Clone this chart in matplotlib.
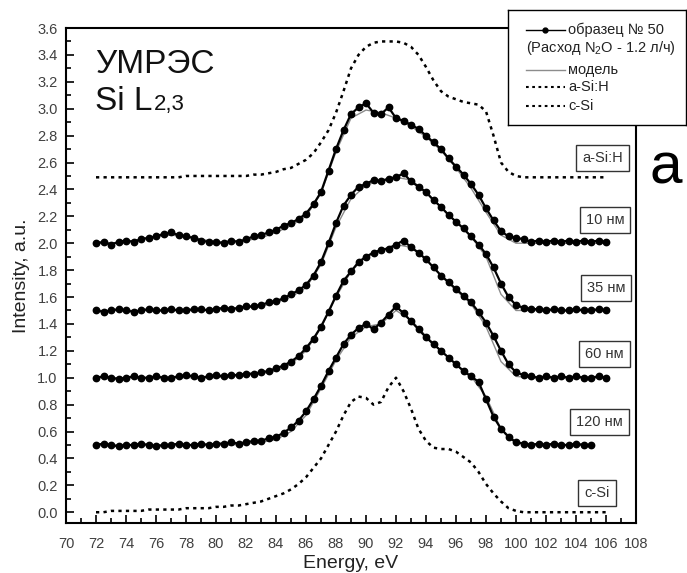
import numpy as np
import matplotlib
matplotlib.use("Agg")
import matplotlib.pyplot as plt
from matplotlib.ticker import MultipleLocator, FormatStrFormatter

plt.rcParams["font.family"] = ["Liberation Sans", "DejaVu Sans"]
plt.rcParams["mathtext.fontset"] = "custom"
plt.rcParams["mathtext.rm"] = "Liberation Sans"

# energy grids (eV): measured points every 0.5 eV, model every 1 eV
energy = np.arange(72.0, 106.01, 0.5)
energy_model = np.arange(72.0, 106.01, 1.0)

# reference spectra (dashed)
ref_asih = [
    2.49, 2.49, 2.49, 2.49, 2.49, 2.49, 2.49, 2.49, 2.49, 2.49,
    2.49, 2.49, 2.50, 2.50, 2.50, 2.50, 2.50, 2.50, 2.50, 2.50,
    2.50, 2.51, 2.51, 2.52, 2.53, 2.55, 2.56, 2.59, 2.62, 2.67,
    2.75, 2.84, 2.97, 3.13, 3.30, 3.40, 3.46, 3.49, 3.50, 3.50,
    3.50, 3.49, 3.46, 3.40, 3.31, 3.21, 3.13, 3.09, 3.07, 3.05,
    3.04, 3.03, 2.98, 2.80, 2.60, 2.53, 2.50, 2.49, 2.49, 2.49,
    2.49, 2.49, 2.49, 2.49, 2.49, 2.49, 2.49, 2.49, 2.49,
]
ref_csi = [
    0.00, 0.00, 0.01, 0.01, 0.01, 0.01, 0.01, 0.02, 0.02, 0.02,
    0.02, 0.02, 0.03, 0.03, 0.03, 0.03, 0.04, 0.04, 0.05, 0.05,
    0.06, 0.07, 0.08, 0.10, 0.12, 0.14, 0.17, 0.21, 0.26, 0.33,
    0.40, 0.50, 0.60, 0.72, 0.82, 0.86, 0.85, 0.80, 0.82, 0.93,
    1.00, 0.90, 0.77, 0.62, 0.53, 0.48, 0.47, 0.47, 0.45, 0.41,
    0.37, 0.30, 0.21, 0.14, 0.08, 0.03, 0.01, 0.00, 0.00, 0.00,
    0.00, 0.00, 0.00, 0.00, 0.00, 0.00, 0.00, 0.00, 0.00,
]

# sample No 50, measured spectra (offset curves)
s10 = [
    2.00, 2.01, 1.99, 2.01, 2.02, 2.01, 2.03, 2.04, 2.05, 2.07,
    2.08, 2.06, 2.05, 2.04, 2.02, 2.01, 2.01, 2.00, 2.02, 2.01,
    2.03, 2.05, 2.06, 2.08, 2.10, 2.13, 2.15, 2.18, 2.22, 2.29,
    2.38, 2.54, 2.70, 2.84, 2.96, 3.01, 3.04, 2.97, 2.96, 3.01,
    2.93, 2.91, 2.88, 2.85, 2.80, 2.75, 2.70, 2.63, 2.57, 2.51,
    2.44, 2.36, 2.26, 2.17, 2.09, 2.05, 2.04, 2.03, 2.01, 2.02,
    2.01, 2.02, 2.01, 2.02, 2.01, 2.02, 2.01, 2.02, 2.01,
]
s35 = [
    1.50, 1.49, 1.50, 1.51, 1.50, 1.49, 1.50, 1.51, 1.50, 1.50,
    1.51, 1.50, 1.50, 1.51, 1.51, 1.50, 1.51, 1.52, 1.51, 1.52,
    1.53, 1.53, 1.54, 1.56, 1.57, 1.59, 1.62, 1.65, 1.69, 1.76,
    1.86, 2.00, 2.15, 2.28, 2.36, 2.42, 2.44, 2.47, 2.46, 2.48,
    2.49, 2.52, 2.46, 2.42, 2.38, 2.32, 2.27, 2.21, 2.16, 2.11,
    2.05, 1.99, 1.92, 1.82, 1.70, 1.60, 1.54, 1.52, 1.51, 1.51,
    1.50, 1.51, 1.50, 1.50, 1.51, 1.50, 1.50, 1.51, 1.50,
]
s60 = [
    1.00, 1.01, 1.00, 0.99, 1.00, 1.01, 1.00, 1.00, 1.01, 1.00,
    1.00, 1.01, 1.02, 1.01, 1.00, 1.01, 1.02, 1.01, 1.02, 1.02,
    1.03, 1.03, 1.04, 1.05, 1.07, 1.09, 1.12, 1.16, 1.22, 1.29,
    1.38, 1.49, 1.61, 1.72, 1.79, 1.86, 1.90, 1.93, 1.95, 1.96,
    1.99, 2.02, 1.97, 1.93, 1.88, 1.82, 1.76, 1.71, 1.66, 1.61,
    1.56, 1.49, 1.41, 1.31, 1.20, 1.10, 1.04, 1.02, 1.01, 1.00,
    1.01, 1.00, 1.01, 1.00, 1.01, 1.00, 1.00, 1.01, 1.00,
]
s120 = [
    0.50, 0.51, 0.50, 0.49, 0.50, 0.50, 0.51, 0.50, 0.49, 0.50,
    0.50, 0.51, 0.50, 0.50, 0.51, 0.50, 0.51, 0.51, 0.52, 0.51,
    0.52, 0.53, 0.53, 0.55, 0.56, 0.59, 0.63, 0.68, 0.75, 0.84,
    0.94, 1.05, 1.15, 1.25, 1.32, 1.37, 1.40, 1.36, 1.41, 1.47,
    1.53, 1.48, 1.42, 1.36, 1.30, 1.25, 1.20, 1.15, 1.10, 1.05,
    1.01, 0.97, 0.84, 0.71, 0.62, 0.56, 0.52, 0.51, 0.50, 0.51,
    0.50, 0.51, 0.50, 0.50, 0.51, 0.50, 0.50,
]

# model fits
m10 = [2.00, 2.00, 2.01, 2.03, 2.05, 2.06, 2.05, 2.03, 2.01, 2.01,
       2.02, 2.04, 2.08, 2.13, 2.20, 2.37, 2.68, 2.93, 2.99, 2.97,
       2.93, 2.87, 2.79, 2.69, 2.56, 2.41, 2.23, 2.06, 2.00, 2.00,
       2.00, 2.00, 2.00, 2.00, 2.00]
m35 = [1.50, 1.50, 1.50, 1.50, 1.50, 1.50, 1.50, 1.50, 1.51, 1.51,
       1.52, 1.53, 1.56, 1.60, 1.67, 1.84, 2.12, 2.33, 2.43, 2.47,
       2.49, 2.47, 2.38, 2.27, 2.16, 2.05, 1.90, 1.62, 1.50, 1.50,
       1.50, 1.50, 1.50, 1.50, 1.50]
m60 = [1.00, 1.00, 1.00, 1.00, 1.00, 1.00, 1.00, 1.00, 1.00, 1.01,
       1.02, 1.03, 1.05, 1.10, 1.20, 1.37, 1.60, 1.79, 1.90, 1.95,
       1.99, 1.97, 1.88, 1.76, 1.65, 1.55, 1.38, 1.12, 1.01, 1.00,
       1.00, 1.00, 1.00, 1.00, 1.00]
m120 = [0.50, 0.50, 0.50, 0.50, 0.50, 0.50, 0.50, 0.50, 0.50, 0.50,
        0.51, 0.52, 0.54, 0.60, 0.72, 0.92, 1.13, 1.30, 1.38, 1.40,
        1.50, 1.43, 1.31, 1.20, 1.10, 1.01, 0.86, 0.62, 0.52, 0.50,
        0.50, 0.50, 0.50, 0.50]

samples = [s10, s35, s60, s120]
models = [m10, m35, m60, m120]
box_labels = ["a-Si:H", "10 нм", "35 нм", "60 нм", "120 нм", "c-Si"]

fig = plt.figure(figsize=(6.87, 5.73), dpi=100)
ax = fig.add_axes([66 / 687, 50 / 573, 570 / 687, 495 / 573])

dots = (0, (1.3, 1.7))
ax.plot(energy, ref_asih, color="k", lw=1.8, ls=dots)
ax.plot(energy, ref_csi, color="k", lw=1.8, ls=dots)
for s, m in zip(samples, models):
    ax.plot(energy_model[:len(m)], m, color="0.55", lw=1.0, zorder=2)
    ax.plot(energy[:len(s)], s, "o-", color="k", ms=4.6, lw=1.6, zorder=3)

# boxed curve labels on the right
box_pos = [(105.77, 2.636), (105.93, 2.171), (106.0, 1.669),
           (105.9, 1.178), (105.57, 0.672), (105.4, 0.144)]
for (bx, by), txt in zip(box_pos, box_labels):
    ax.text(bx, by, txt, ha="center", va="center", fontsize=10.5, color="#333333",
            bbox=dict(boxstyle="square,pad=0.4", fc="white", ec="#333333", lw=1))

ax.text(71.93, 3.265, "УМРЭС", fontsize=24, va="baseline", color="#111111")
ax.text(71.93, 2.99, "Si L", fontsize=24, va="baseline", color="#111111")
ax.text(75.85, 2.99, "2,3", fontsize=16, va="baseline", color="#111111")

ax.set_xlim(70, 108)
ax.set_ylim(-0.08, 3.6)
ax.xaxis.set_major_locator(MultipleLocator(2))
ax.xaxis.set_minor_locator(MultipleLocator(1))
ax.yaxis.set_major_locator(MultipleLocator(0.2))
ax.yaxis.set_minor_locator(MultipleLocator(0.1))
ax.yaxis.set_major_formatter(FormatStrFormatter("%.1f"))
ax.tick_params(which="both", direction="in", top=False, right=False,
               width=1.2, colors="k", labelcolor="#404040", labelsize=10.5)
ax.tick_params(axis="x", which="major", length=6, pad=10)
ax.tick_params(axis="y", which="major", length=6, pad=6)
ax.tick_params(which="minor", length=3.5)
for sp in ax.spines.values():
    sp.set_linewidth(1.5)
ax.set_xlabel("Energy, eV", fontsize=14, labelpad=3, color="#222222")
ax.set_ylabel("Intensity, a.u.", fontsize=14, labelpad=5, color="#222222")

fig.text(666 / 687, 1 - 183 / 573, "a", fontsize=42, ha="center", va="baseline")

# legend box drawn by hand (it sticks out over the frame)
lg = fig.add_axes([508 / 687, 1 - 125 / 573, 178 / 687, 115 / 573])
lg.set_xlim(0, 1)
lg.set_ylim(0, 1)
lg.set_xticks([])
lg.set_yticks([])
for sp in lg.spines.values():
    sp.set_linewidth(1.0)
hx = [0.101, 0.32]
lg.plot(hx, [0.826, 0.826], color="k", lw=1)
lg.plot([0.21], [0.826], "o", color="k", ms=3.5)
lg.plot(hx, [0.478, 0.478], color="0.55", lw=1)
lg.plot(hx, [0.330, 0.330], color="k", lw=1.5, ls=dots)
lg.plot(hx, [0.165, 0.165], color="k", lw=1.5, ls=dots)
lkw = dict(fontsize=10.5, va="center", color="#222222")
lg.text(0.339, 0.826, "образец № 50", **lkw)
lg.text(0.101, 0.67, "(Расход N$_\\mathregular{2}$O - 1.2 л/ч)", **lkw)
lg.text(0.339, 0.478, "модель", **lkw)
lg.text(0.339, 0.330, "a-Si:H", **lkw)
lg.text(0.339, 0.165, "c-Si", **lkw)

fig.savefig("out.png", dpi=100)
